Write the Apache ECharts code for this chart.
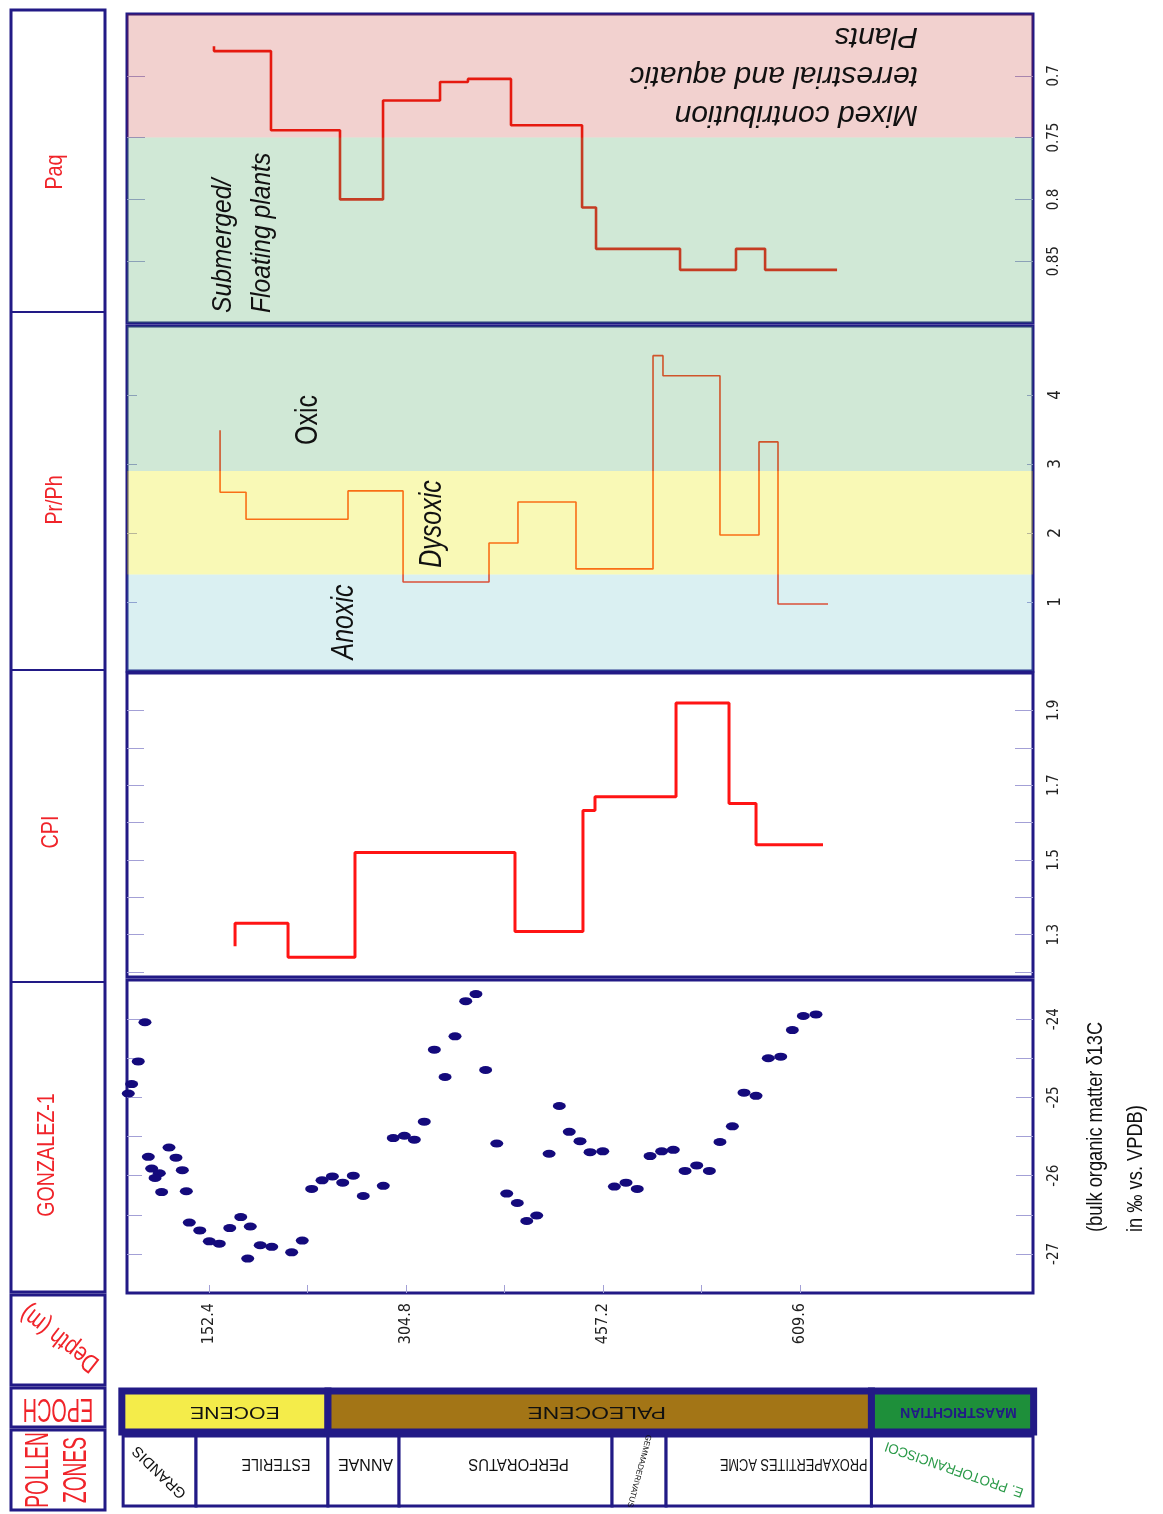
<!DOCTYPE html>
<html><head><meta charset="utf-8">
<script src="https://cdn.jsdelivr.net/npm/echarts@6/dist/echarts.min.js"></script>
<style>html,body{margin:0;padding:0;background:#fff}#c{width:1163px;height:1514px}</style>
</head><body><div id="c"></div><script>
// ---------- data (depth in m) ----------
const depthTickLabels = [152.4, 304.8, 457.2, 609.6];
const depthMinorTicks = [152.4, 228.6, 304.8, 381.0, 457.2, 533.4, 609.6];

const paqTicks = [0.7, 0.75, 0.8, 0.85];
const prphTicks = [1, 2, 3, 4];
const cpiTicks = [1.2, 1.3, 1.4, 1.5, 1.6, 1.7, 1.8, 1.9];
const cpiTickLabels = [1.3, 1.5, 1.7, 1.9];
const d13cTicks = [-27, -26.5, -26, -25.5, -25, -24.5, -24];
const d13cTickLabels = [-27, -26, -25, -24];

// Paq step curve: interval boundaries, value per interval, first value
const paqBounds = [156.3, 200.4, 253.8, 287.1, 331.2, 352.8, 386.1, 441.1, 451.9, 516.9, 560.2, 582.7, 638.4];
const paqValues = [0.680, 0.744, 0.800, 0.720, 0.705, 0.7025, 0.740, 0.8065, 0.840, 0.857, 0.840, 0.857];
const paqStart = 0.676;

// Pr/Ph step curve
const prphBounds = [161.0, 181.1, 260.0, 302.6, 369.1, 391.5, 436.4, 496.0, 503.7, 547.8, 578.0, 592.7, 631.4];
const prphValues = [2.59, 2.20, 2.61, 1.29, 1.855, 2.45, 1.48, 4.57, 4.28, 1.97, 3.32, 0.97];
const prphStart = 3.49;

// CPI step curve
const cpiBounds = [172.6, 213.6, 265.4, 389.2, 441.8, 451.1, 513.8, 554.8, 575.7, 627.5];
const cpiValues = [1.331, 1.24, 1.52, 1.309, 1.632, 1.669, 1.92, 1.651, 1.541];
const cpiStart = 1.269;

// bulk organic matter d13C (GONZALEZ-1)
const d13cDepth = [90.0, 92.6, 97.7, 102.9, 105.5, 108.1, 114.0, 110.7, 115.8, 121.5, 126.9, 131.8, 134.9, 137.2,
  145.3, 152.7, 160.4, 168.5, 177.0, 182.4, 184.4, 192.1, 201.0, 216.4, 224.6, 231.9, 239.9, 247.9, 255.9, 264.1,
  271.8, 287.3, 295.0, 303.6, 311.3, 319.0, 326.8, 335.1, 342.8, 351.1, 359.0, 366.5, 375.1, 382.8, 391.0, 398.3,
  406.0, 415.6, 423.5, 431.2, 439.5, 447.3, 457.1, 466.1, 475.1, 483.8, 493.7, 502.7, 511.7, 520.8, 529.8, 539.6,
  547.8, 557.4, 566.4, 575.7, 585.2, 594.8, 603.8, 612.3, 622.1];
const d13cValue = [-24.95, -24.83, -24.54, -24.04, -25.76, -25.91, -25.97, -26.03, -26.21, -25.64, -25.77, -25.93, -26.20, -26.60,
  -26.70, -26.84, -26.87, -26.67, -26.53, -27.06, -26.65, -26.89, -26.91, -26.98, -26.83, -26.17, -26.06, -26.01, -26.09, -26.00,
  -26.26, -26.13, -25.52, -25.49, -25.54, -25.31, -24.39, -24.74, -24.22, -23.77, -23.68, -24.65, -25.59, -26.23, -26.35, -26.58,
  -26.51, -25.72, -25.11, -25.44, -25.56, -25.70, -25.69, -26.14, -26.09, -26.17, -25.75, -25.69, -25.67, -25.94, -25.87, -25.94,
  -25.57, -25.37, -24.94, -24.98, -24.50, -24.48, -24.14, -23.96, -23.94];

// interpretation bands [from, to]
const paqBands = [[0.65, 0.75], [0.75, 0.90]];
const paqBandNames = ['Mixed contribution', 'Submerged/Floating plants'];
const prphBands = [[0, 1.4], [1.4, 2.9], [2.9, 5]];
const prphBandNames = ['Anoxic', 'Dysoxic', 'Oxic'];

// epochs and pollen zones (depth boundaries)
const epochBounds = [85, 244.5, 665, 790.5];
const epochNames = ['EOCENE', 'PALEOCENE', 'MAASTRICHTIAN'];
const pollenBounds = [86, 142.4, 244.5, 299.5, 464.3, 506.1, 665, 790];
const pollenNames = ['GRANDIS', 'ESTERILE', 'ANNAE', 'PERFORATUS', 'GEMMADERIVATUS', 'PROXAPERTITES ACME', 'E. PROTOFRANCISCOI'];

// ---------- styles ----------
const NAVY = '#221a86';
const TICK = '#a3a0d6';
const RED = '#f0242a';
const NARROW = '"Liberation Sans Narrow","Arial Narrow","DejaVu Sans Condensed",sans-serif';
const SANS = '"Liberation Sans",Arial,sans-serif';
const DMIN = 89, DMAX = 790;
const paqBandColors = ['rgba(190,25,15,0.2)', 'rgba(67,163,91,0.25)'];
const prphBandColors = ['rgba(70,180,190,0.2)', 'rgba(235,235,12,0.3)', 'rgba(67,163,91,0.25)'];
const epochColors = ['#f4ec4a', '#a37516', '#1e8f3a'];
const epochText = [
  {dx: 10, fs: 17, sx: 1.25, color: '#111', weight: 'normal'},
  {dx: -3, fs: 17, sx: 1.35, color: '#111', weight: 'normal'},
  {dx: 6, fs: 14, sx: 1.0, color: NAVY, weight: 'bold'}
];
const pollenText = [
  {dx: 0, dy: 1, rot: 136, fs: 15, sx: 1.0, color: '#111'},
  {dx: 14, dy: -8, rot: 180, fs: 16, sx: 0.89, color: '#111'},
  {dx: 2, dy: -8, rot: 180, fs: 16, sx: 1.0, color: '#111'},
  {dx: 13, dy: -8, rot: 180, fs: 16, sx: 0.93, color: '#111'},
  {dx: 0, dy: 0, rot: -105, fs: 8, sx: 1.0, color: '#111'},
  {dx: 25, dy: -8, rot: 180, fs: 16, sx: 0.8, color: '#111'},
  {dx: 2, dy: -2, rot: 161, fs: 14, sx: 0.95, color: '#2a9a48'}
];

function stepPoints(bounds, values, start) {
  const pts = [[bounds[0], start]];
  for (let i = 0; i < values.length; i++) {
    pts.push([bounds[i], values[i]]);
    pts.push([bounds[i + 1], values[i]]);
  }
  return pts;
}

const grids = [
  {top: 14, height: 309}, {top: 326, height: 345}, {top: 673, height: 304}, {top: 980, height: 313},
  {top: 1391, height: 41}, {top: 1436, height: 70}
].map((g, i) => Object.assign({left: 127, right: 130, show: i < 4, borderColor: NAVY, borderWidth: 3, backgroundColor: 'transparent'}, g));

const xAxis = grids.map((g, i) => ({
  type: 'value', gridIndex: i, min: DMIN, max: DMAX, show: i === 3,
  splitLine: {show: false}, axisLine: {show: false},
  axisTick: i === 3 ? {show: true, inside: true, length: 8, lineStyle: {color: TICK}, customValues: depthMinorTicks} : {show: false},
  axisLabel: i === 3 ? {show: true, rotate: 90, margin: 10, fontSize: 16, fontFamily: NARROW, color: '#222',
    customValues: depthTickLabels, formatter: v => v.toFixed(1)} : {show: false}
}));

function yPair(g, min, max, inverse, ticks, labels, fmt, lenL, lenR, fs) {
  const base = {type: 'value', gridIndex: g, min, max, inverse, splitLine: {show: false}, axisLine: {show: false}};
  return [
    Object.assign({}, base, {position: 'left', axisTick: {show: true, inside: true, length: lenL, lineStyle: {color: TICK}, customValues: ticks}, axisLabel: {show: false}}),
    Object.assign({}, base, {position: 'right', axisTick: {show: true, inside: true, length: lenR, lineStyle: {color: TICK}, customValues: ticks},
      axisLabel: {show: true, rotate: 90, margin: 14, fontSize: fs, fontFamily: NARROW, color: '#222', customValues: labels, formatter: fmt}})
  ];
}
const yAxis = [].concat(
  yPair(0, 0.65, 0.90, true, paqTicks, paqTicks, v => String(+v.toFixed(2)), 18, 18, 15),
  yPair(1, 0, 5, false, prphTicks, prphTicks, v => String(v), 10, 6, 17),
  yPair(2, 1.187, 2.0, false, cpiTicks, cpiTickLabels, v => v.toFixed(1), 17, 18, 15),
  yPair(3, -27.5, -23.5, false, d13cTicks, d13cTickLabels, v => String(v), 15, 17, 15),
  [{type: 'value', gridIndex: 4, min: 0, max: 1, show: false}, {type: 'value', gridIndex: 5, min: 0, max: 1, show: false}]
);

function bandSeries(xi, yi, bands, names, colors) {
  return {
    type: 'custom', xAxisIndex: xi, yAxisIndex: yi, z: 4, silent: true,
    data: bands.map((b, i) => ({name: names[i], value: b})),
    renderItem(params, api) {
      const cs = params.coordSys;
      const ya = api.coord([DMIN, api.value(0)])[1];
      const yb = api.coord([DMIN, api.value(1)])[1];
      return {type: 'rect', shape: {x: cs.x, y: Math.min(ya, yb), width: cs.width, height: Math.abs(yb - ya)},
        style: {fill: colors[params.dataIndex]}};
    }
  };
}

function pairs(b) { const r = []; for (let i = 0; i < b.length - 1; i++) r.push([b[i], b[i + 1]]); return r; }

const series = [
  bandSeries(0, 1, paqBands, paqBandNames, paqBandColors),
  {type: 'line', name: 'Paq', xAxisIndex: 0, yAxisIndex: 1, z: 2, showSymbol: false, data: stepPoints(paqBounds, paqValues, paqStart),
    lineStyle: {color: '#f01a10', width: 2.6}},
  bandSeries(1, 3, prphBands, prphBandNames, prphBandColors),
  {type: 'line', name: 'Pr/Ph', xAxisIndex: 1, yAxisIndex: 3, z: 2, showSymbol: false, data: stepPoints(prphBounds, prphValues, prphStart),
    lineStyle: {color: '#ff3a1a', width: 1.6}},
  {type: 'line', name: 'CPI', xAxisIndex: 2, yAxisIndex: 5, z: 2, showSymbol: false, data: stepPoints(cpiBounds, cpiValues, cpiStart),
    lineStyle: {color: '#ff1414', width: 3}},
  {type: 'scatter', name: 'd13C', xAxisIndex: 3, yAxisIndex: 7, symbol: 'circle', symbolSize: [13, 8],
    itemStyle: {color: '#140a7c', opacity: 1}, data: d13cDepth.map((d, i) => [d, d13cValue[i]])},
  {type: 'custom', name: 'Epoch', xAxisIndex: 4, yAxisIndex: 8, z: 3, silent: true, clip: false,
    data: pairs(epochBounds),
    renderItem(params, api) {
      const i = params.dataIndex, cs = params.coordSys;
      const x0 = api.coord([api.value(0), 0])[0], x1 = api.coord([api.value(1), 0])[0];
      const t = epochText[i];
      return {type: 'group', children: [
        {type: 'rect', shape: {x: x0, y: cs.y, width: x1 - x0, height: cs.height}, style: {fill: epochColors[i], stroke: NAVY, lineWidth: 7}},
        {type: 'text', x: (x0 + x1) / 2 + t.dx, y: cs.y + cs.height / 2, rotation: Math.PI, scaleX: t.sx,
          style: {text: epochNames[i], fontSize: t.fs, fontFamily: SANS, fontWeight: t.weight, fill: t.color, align: 'center', verticalAlign: 'middle'}}
      ]};
    }},
  {type: 'custom', name: 'Pollen zones', xAxisIndex: 5, yAxisIndex: 9, z: 3, silent: true, clip: false,
    data: pairs(pollenBounds),
    renderItem(params, api) {
      const i = params.dataIndex, cs = params.coordSys;
      const x0 = api.coord([api.value(0), 0])[0], x1 = api.coord([api.value(1), 0])[0];
      const t = pollenText[i];
      return {type: 'group', children: [
        {type: 'rect', shape: {x: x0, y: cs.y, width: x1 - x0, height: cs.height}, style: {fill: '#fff', stroke: NAVY, lineWidth: 3}},
        {type: 'text', x: (x0 + x1) / 2 + t.dx, y: cs.y + cs.height / 2 + t.dy, rotation: t.rot * Math.PI / 180, scaleX: t.sx,
          style: {text: pollenNames[i], fontSize: t.fs, fontFamily: SANS, fill: t.color, align: 'center', verticalAlign: 'middle'}}
      ]};
    }}
];

function txt(text, x, y, rotDeg, fs, sx, color, extra) {
  return Object.assign({type: 'text', x, y, rotation: rotDeg * Math.PI / 180, scaleX: sx, z: 50,
    style: Object.assign({text, fontSize: fs, fontFamily: SANS, fill: color, align: 'center', verticalAlign: 'middle'}, extra || {})});
}
function rect(x, y, w, h, lw) {
  return {type: 'rect', z: 40, shape: {x, y, width: w, height: h}, style: {fill: 'none', stroke: NAVY, lineWidth: lw}};
}
function hline(y) {
  return {type: 'line', z: 40, shape: {x1: 11, y1: y, x2: 105, y2: y}, style: {stroke: NAVY, lineWidth: 2}};
}

const graphic = [
  rect(11, 10, 94, 1282, 3),
  hline(312), hline(670), hline(982),
  rect(11, 1295, 94, 90, 3),
  rect(11, 1388, 94, 39, 3),
  rect(11, 1430, 94, 80, 3),
  txt('Paq', 55, 172, 90, 24, 0.82, RED),
  txt('Pr/Ph', 55, 500, 90, 24, 0.82, RED),
  txt('CPI', 51, 832, 90, 24, 0.82, RED),
  txt('GONZALEZ-1', 47, 1155, 90, 24, 0.82, RED),
  txt('Depth (m)', 60, 1338, 142, 26, 0.8, RED),
  txt('EPOCH', 58, 1408, 180, 33, 0.6, RED),
  txt('POLLEN\nZONES', 58, 1470, 90, 33, 0.58, RED, {lineHeight: 38}),
  txt('Submerged/\nFloating plants', 204, 313, 90, 28, 0.88, '#111', {align: 'left', verticalAlign: 'top', fontStyle: 'italic', lineHeight: 39}),
  txt('Mixed contribution\nterrestrial and aquatic\nPlants', 918, 134, 180, 30, 1.0, '#111', {align: 'left', verticalAlign: 'top', fontStyle: 'italic', lineHeight: 39}),
  txt('Oxic', 308, 420, 90, 32, 0.78, '#111'),
  txt('Dysoxic', 432, 524, 90, 32, 0.78, '#111', {fontStyle: 'italic'}),
  txt('Anoxic', 344, 622, 90, 32, 0.78, '#111', {fontStyle: 'italic'}),
  txt('(bulk organic matter \u03B413C\nin \u2030 vs. VPDB)', 1076, 1232, 90, 22, 0.83, '#111', {align: 'left', verticalAlign: 'top', lineHeight: 40})
];

const chart = echarts.init(document.getElementById('c'), null, {renderer: 'canvas'});
chart.setOption({animation: false, backgroundColor: '#fff', grid: grids, xAxis, yAxis, series, graphic});
</script></body></html>
